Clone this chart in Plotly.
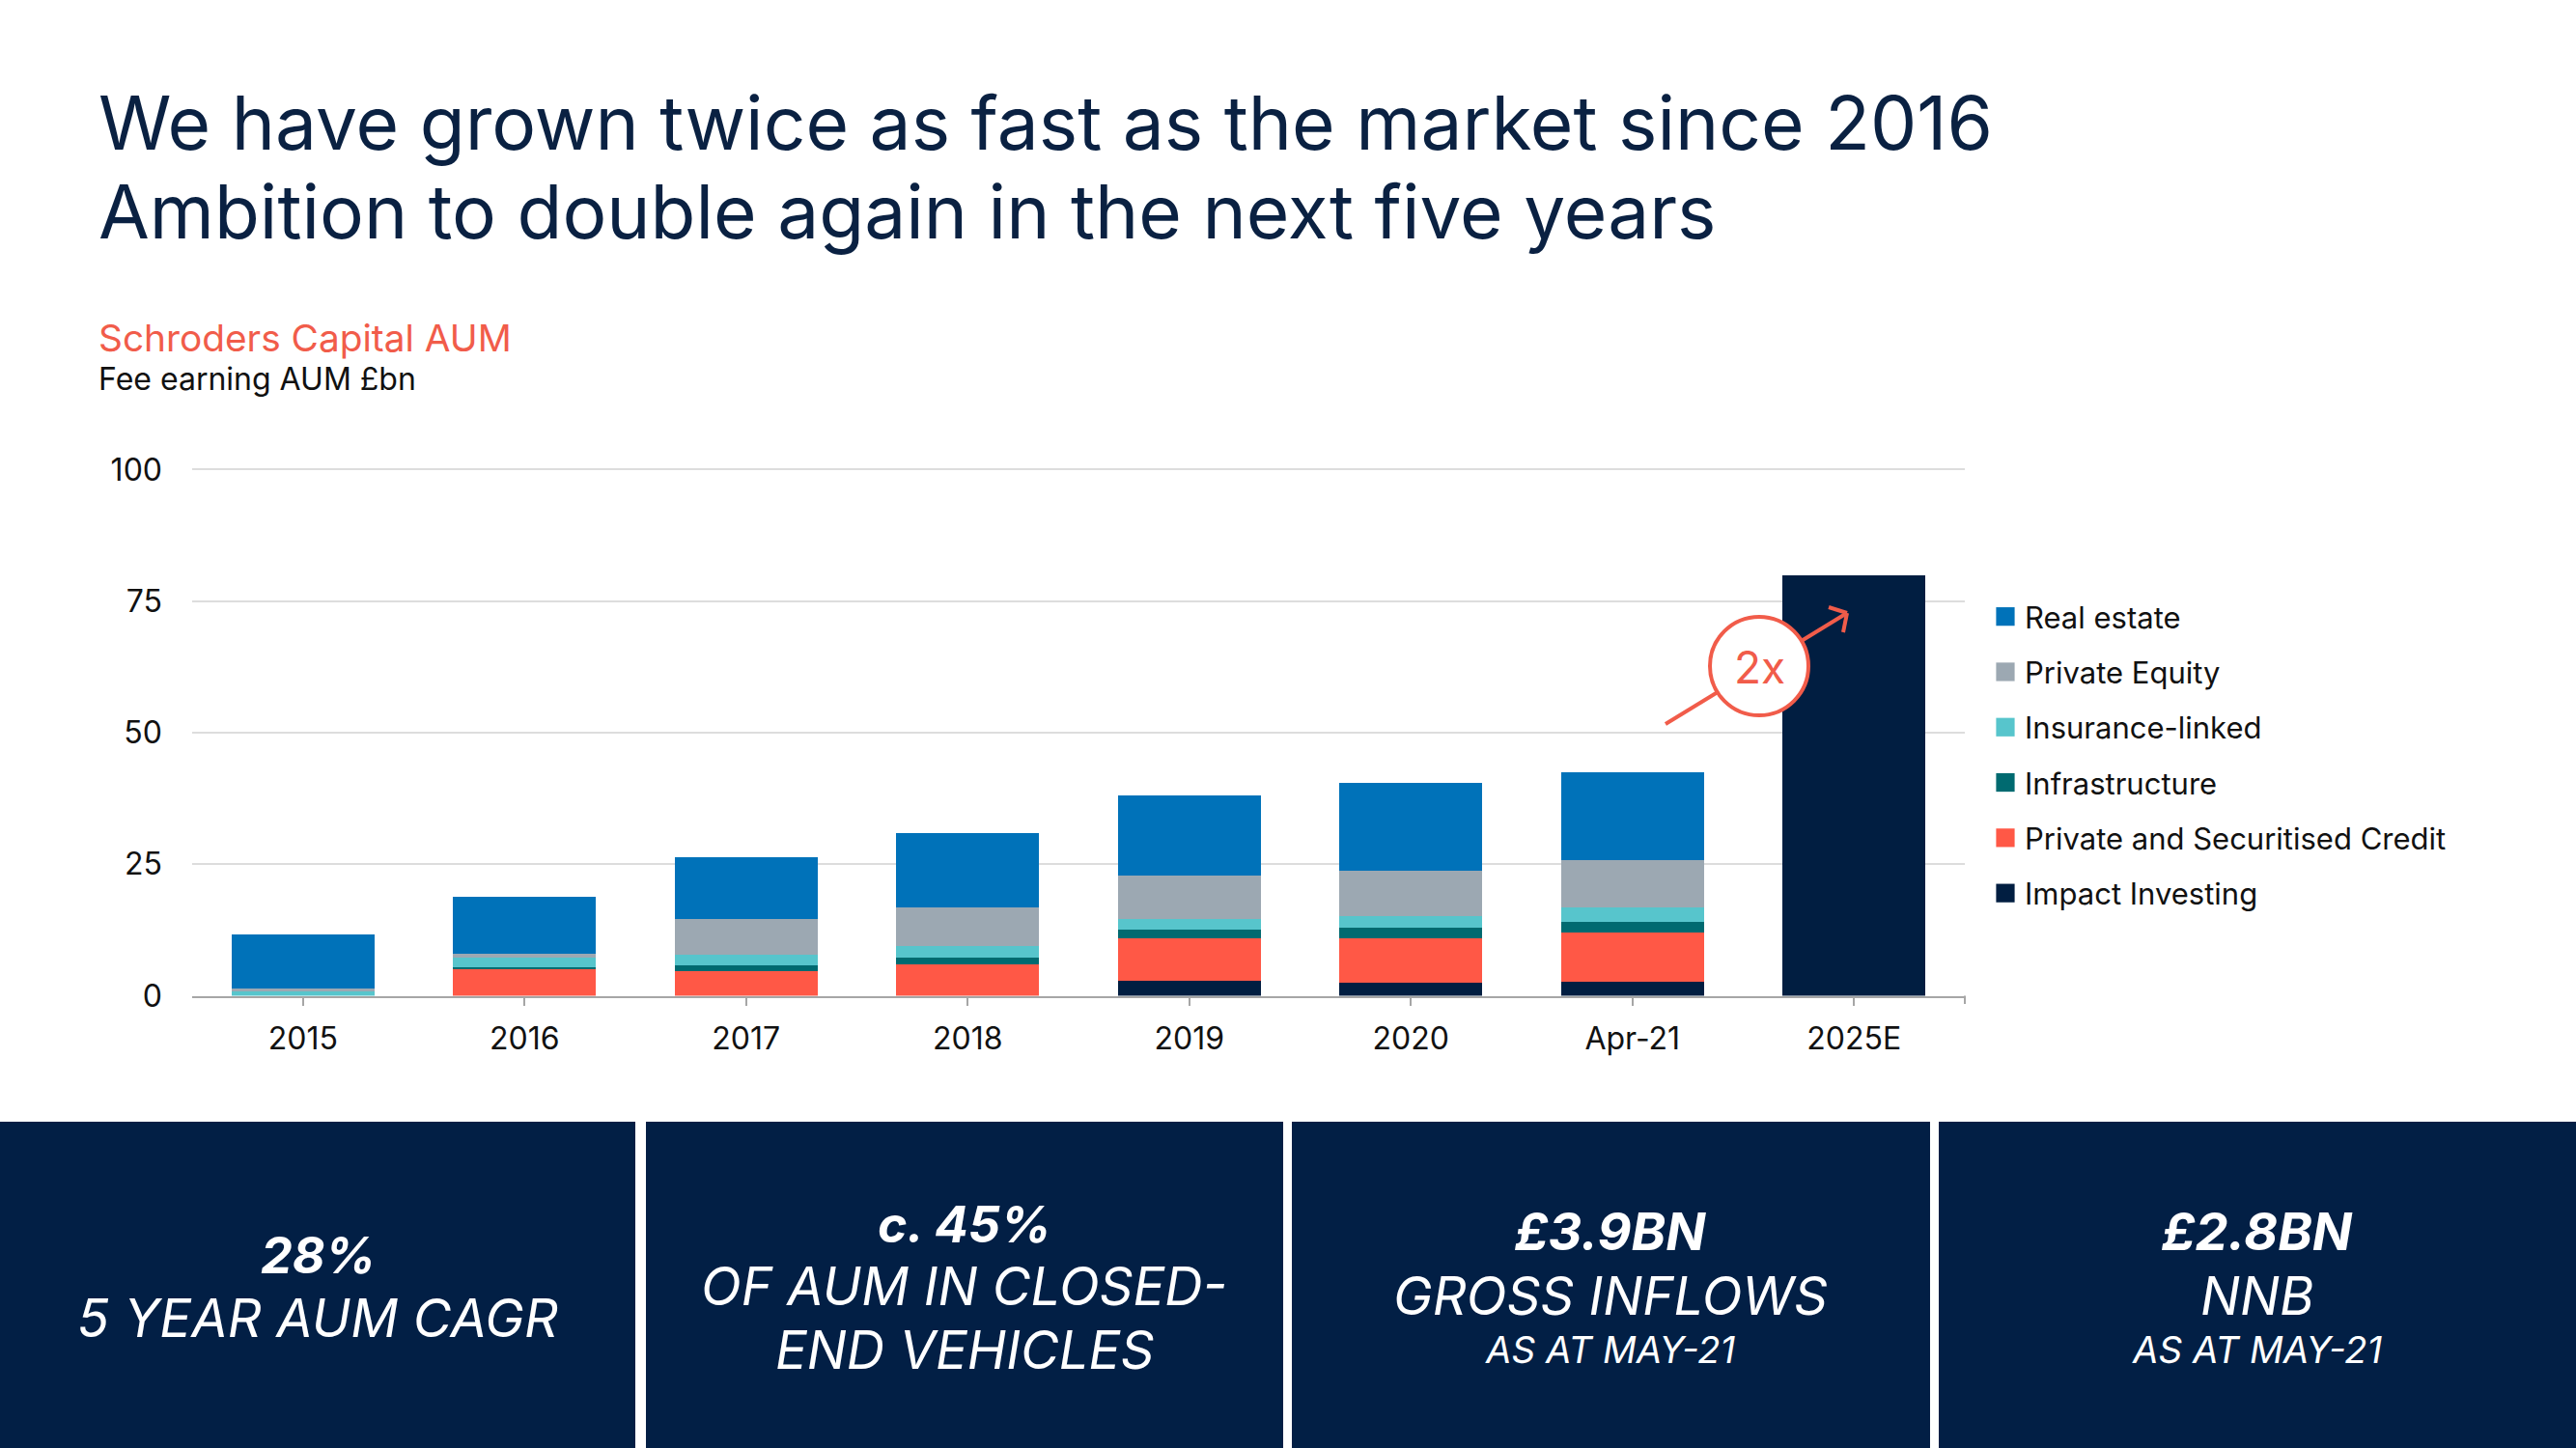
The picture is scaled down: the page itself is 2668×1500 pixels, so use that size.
import plotly.graph_objects as go

W, H = 2668, 1500

categories = ["2015", "2016", "2017", "2018", "2019", "2020", "Apr-21"]
impact_investing = [0.0, 0.0, 0.0, 0.0, 2.9, 2.5, 2.7]
private_credit = [0.0, 5.0, 4.6, 5.9, 8.1, 8.5, 9.4]
infrastructure = [0.0, 0.5, 1.1, 1.3, 1.5, 1.9, 2.0]
insurance_linked = [0.9, 1.7, 2.1, 2.2, 2.1, 2.2, 2.6]
private_equity = [0.5, 0.7, 6.7, 7.3, 8.2, 8.6, 9.0]
real_estate = [10.3, 10.9, 11.8, 14.2, 15.2, 16.8, 16.7]

target_category = ["2025E"]
target_value = [80.0]

all_categories = categories + target_category
y_ticks = [0, 25, 50, 75, 100]

series = [
    ("Impact Investing", impact_investing, "#011E41"),
    ("Private and Securitised Credit", private_credit, "#FF5846"),
    ("Infrastructure", infrastructure, "#006A70"),
    ("Insurance-linked", insurance_linked, "#57C5CC"),
    ("Private Equity", private_equity, "#9CA8B2"),
    ("Real estate", real_estate, "#0072B9"),
]

NAVY = "#011E41"
TITLE = "#0A2142"
CORAL = "#F15C4A"
FONT = "Inter"


def px(x):
    return x / W


def py(y):
    return 1 - y / H


fig = go.Figure()
n = len(series)
for i, (name, vals, color) in enumerate(series):
    fig.add_trace(go.Bar(
        x=categories, y=vals, name=name, marker=dict(color=color, line=dict(width=0)),
        legendgroup=f"g{i}", legendrank=n - i, hoverinfo="skip",
    ))
fig.add_trace(go.Bar(
    x=target_category, y=target_value, name="2025E", marker=dict(color=NAVY, line=dict(width=0)),
    showlegend=False, hoverinfo="skip",
))

shapes = []
# bottom KPI boxes
boxes = [(0, 658), (669, 1329), (1338, 1999), (2008, 2668)]
for x0, x1 in boxes:
    shapes.append(dict(type="rect", xref="paper", yref="paper", x0=px(x0), x1=px(x1),
                       y0=0, y1=py(1162), fillcolor="#021F45", line=dict(width=0), layer="above"))
# right end tick of the x axis
shapes.append(dict(type="line", xref="paper", yref="paper", x0=px(2035), x1=px(2035),
                   y0=py(1031.5), y1=py(1040), line=dict(color="#A6A6A6", width=2)))
# 2x arrow
shapes.append(dict(type="line", xref="paper", yref="paper", x0=px(1725), y0=py(750), x1=px(1913), y1=py(635),
                   line=dict(color=CORAL, width=4), layer="above"))
shapes.append(dict(type="line", xref="paper", yref="paper", x0=px(1913), y0=py(635), x1=px(1894), y1=py(629),
                   line=dict(color=CORAL, width=4), layer="above"))
shapes.append(dict(type="line", xref="paper", yref="paper", x0=px(1913), y0=py(635), x1=px(1909), y1=py(655),
                   line=dict(color=CORAL, width=4), layer="above"))
shapes.append(dict(type="circle", xref="paper", yref="paper", x0=px(1822 - 51), x1=px(1822 + 51),
                   y0=py(690 + 51), y1=py(690 - 51), fillcolor="white",
                   line=dict(color=CORAL, width=4), layer="above"))

ann = []


def text(x, y, s, size, color, xanchor="left", bold=False, italic=False):
    t = s
    if bold:
        t = f"<b>{t}</b>"
    if italic:
        t = f"<i>{t}</i>"
    ann.append(dict(x=px(x), y=py(y), xref="paper", yref="paper", text=t, showarrow=False,
                    xanchor=xanchor, yanchor="middle", font=dict(family=FONT, size=size, color=color)))


text(100, 126.5, "We have grown twice as fast as the market since 2016", 76.6, TITLE)
text(100, 219.5, "Ambition to double again in the next five years", 76.6, TITLE)
text(100, 349.5, "Schroders Capital AUM", 38.8, CORAL)
text(100, 392.5, "Fee earning AUM £bn", 32, "#111111")
text(1822, 691, "2x", 46, CORAL, xanchor="center")

# KPI texts
text(329, 1300, "28%", 52, "white", "center", bold=True, italic=True)
text(329, 1365, "5 YEAR AUM CAGR", 54.5, "white", "center", italic=True)
text(999, 1268, "c. 45%", 52, "white", "center", bold=True, italic=True)
text(999, 1332, "OF AUM IN CLOSED-", 54.5, "white", "center", italic=True)
text(999, 1398, "END VEHICLES", 54.5, "white", "center", italic=True)
text(1668, 1275, "£3.9BN", 54, "white", "center", bold=True, italic=True)
text(1668, 1342, "GROSS INFLOWS", 54.5, "white", "center", italic=True)
text(1668, 1398, "AS AT MAY-21", 38.5, "white", "center", italic=True)
text(2338, 1275, "£2.8BN", 54, "white", "center", bold=True, italic=True)
text(2338, 1342, "NNB", 54.5, "white", "center", italic=True)
text(2338, 1398, "AS AT MAY-21", 38.5, "white", "center", italic=True)

y_top_val = 100.3
fig.update_layout(
    width=W, height=H,
    margin=dict(l=0, r=0, t=0, b=0, pad=0, autoexpand=False),
    paper_bgcolor="white", plot_bgcolor="white",
    barmode="stack", bargap=0.355,
    font=dict(family=FONT, color="#111111"),
    shapes=shapes, annotations=ann,
    legend=dict(x=px(2057), xanchor="left", y=py(612), yanchor="top",
                traceorder="grouped", tracegroupgap=14,
                font=dict(family=FONT, size=31, color="#111111"), bgcolor="rgba(0,0,0,0)"),
    xaxis=dict(domain=[px(199), px(2035)], categoryorder="array", categoryarray=all_categories,
               range=[-0.5, 7.5], showline=True, linecolor="#A6A6A6", linewidth=2,
               ticks="outside", ticklen=8, tickwidth=2, tickcolor="#A6A6A6",
               tickfont=dict(family=FONT, size=32, color="#111111"), ticklabelstandoff=7,
               showgrid=False, fixedrange=True, automargin=False),
    yaxis=dict(domain=[py(1031.5), py(1031.5 - y_top_val * 5.45)], range=[0, y_top_val], tickvals=y_ticks,
               showgrid=True, gridcolor="#DDDDDD", gridwidth=2, zeroline=False,
               showline=False, ticks="", ticklabelstandoff=30,
               tickfont=dict(family=FONT, size=32, color="#111111"), fixedrange=True, automargin=False),
    hovermode=False,
)

page_fix = (
    "document.documentElement.style.margin='0';"
    "document.documentElement.style.overflow='hidden';"
    "document.body.style.margin='0';"
    "document.body.style.overflow='hidden';"
    "var gd=document.getElementById('{plot_id}');"
    "gd.style.position='fixed';gd.style.top='0px';gd.style.left='0px';"
    "gd.querySelectorAll('.legend .legendpoints path').forEach(function(p){"
    "var t=p.getAttribute('transform')||'';p.setAttribute('transform',t+' scale(1.6)');});"
)

fig.write_html("out.html", config=dict(displayModeBar=False), post_script=page_fix)
